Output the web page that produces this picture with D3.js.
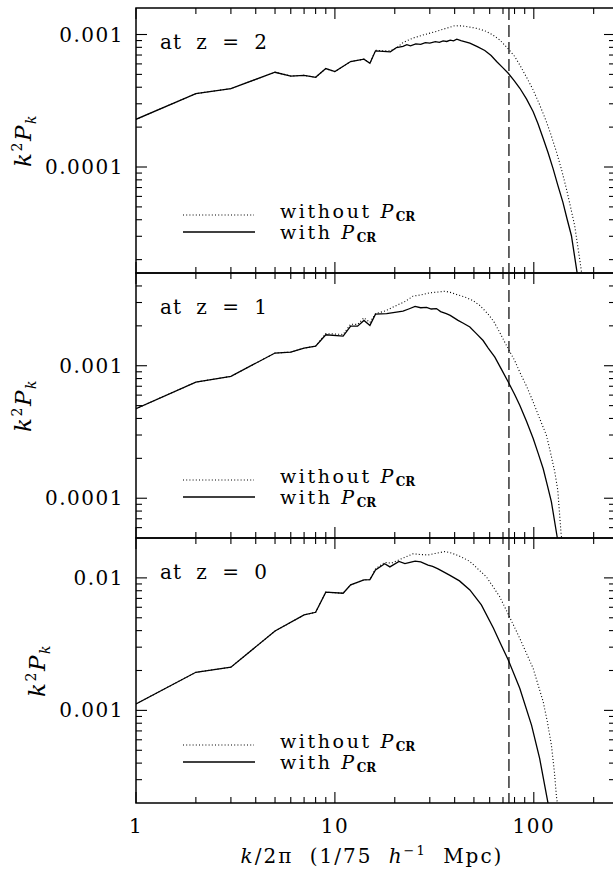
<!DOCTYPE html>
<html>
<head>
<meta charset="utf-8">
<script src="https://cdn.jsdelivr.net/npm/d3@7"></script>
<style>
  body { margin: 0; background: #fff; }
  svg { display: block; }
  text { font-family: "DejaVu Serif", serif; fill: #000; }
</style>
</head>
<body>
<div id="chart"></div>
<script>

// panel labels and y tick labels
var panelLabels = ["at z = 2", "at z = 1", "at z = 0"];
var yDomains = [[1.585e-5, 1.585e-3], [5.01e-5, 5.01e-3], [2.0e-4, 2.0e-2]];
var yMajor = [[0.001, 0.0001], [0.001, 0.0001], [0.01, 0.001]];
var xMajor = [1, 10, 100];
var kNyquist = 75;

// z = 2
var kWith2 = [1, 2, 3, 5, 6, 7, 8, 9, 10, 12, 14, 15, 16, 19, 20.4, 22, 23, 24, 25.5, 27, 28.5, 30, 32, 33.5, 35, 36.5, 38, 39.5, 41, 43, 47.7, 52, 56.7, 61, 65, 70, 74.4, 80, 85.1, 92, 99.3, 105, 111.5, 118, 125, 132, 140, 147, 154.6, 165, 172];
var pWith2 = [2.29e-4, 3.58e-4, 3.91e-4, 5.19e-4, 4.86e-4, 4.92e-4, 4.75e-4, 5.53e-4, 5.25e-4, 6.25e-4, 6.52e-4, 6.07e-4, 7.53e-4, 7.40e-4, 7.98e-4, 8.15e-4, 8.38e-4, 8.22e-4, 8.50e-4, 8.42e-4, 8.68e-4, 8.60e-4, 8.82e-4, 8.72e-4, 8.95e-4, 8.86e-4, 9.08e-4, 8.96e-4, 9.22e-4, 9.00e-4, 8.61e-4, 8.10e-4, 7.58e-4, 6.95e-4, 6.25e-4, 5.60e-4, 5.10e-4, 4.45e-4, 3.93e-4, 3.25e-4, 2.61e-4, 2.12e-4, 1.64e-4, 1.28e-4, 9.72e-5, 7.30e-5, 5.43e-5, 4.05e-5, 3.03e-5, 1.60e-5, 1.10e-5];
var kWithout2 = [1, 2, 3, 5, 6, 7, 8, 9, 10, 12, 14, 15, 16, 17, 19, 20.4, 22, 24.7, 28, 32.4, 36, 40, 44, 47.7, 52, 56.7, 62, 67.3, 74.4, 80, 85, 92, 99.3, 107, 115.7, 122, 130, 138, 145.8, 153, 160.5, 171, 176];
var pWithout2 = [2.29e-4, 3.58e-4, 3.91e-4, 5.19e-4, 4.86e-4, 4.92e-4, 4.75e-4, 5.53e-4, 5.25e-4, 6.25e-4, 6.52e-4, 6.07e-4, 7.60e-4, 7.55e-4, 7.53e-4, 7.90e-4, 8.70e-4, 9.40e-4, 9.95e-4, 1.055e-3, 1.11e-3, 1.164e-3, 1.16e-3, 1.137e-3, 1.11e-3, 1.067e-3, 9.95e-4, 9.12e-4, 7.80e-4, 6.85e-4, 5.89e-4, 4.75e-4, 3.81e-4, 2.95e-4, 2.20e-4, 1.75e-4, 1.30e-4, 9.50e-5, 6.86e-5, 5.00e-5, 3.61e-5, 1.91e-5, 1.40e-5];

// z = 1
var kWith1 = [1, 2, 3, 5, 6, 7, 8, 9, 11, 12, 13, 14, 15, 16, 18.2, 20.4, 22, 23.5, 25.3, 27, 28.9, 30.5, 32.4, 34, 36.3, 38, 41.6, 44, 47.7, 51, 55.6, 59, 63.7, 69, 74.4, 80, 85, 92, 99.3, 105, 111.5, 117, 122.6, 131, 135];
var pWith1 = [4.74e-4, 7.53e-4, 8.32e-4, 1.247e-3, 1.268e-3, 1.359e-3, 1.407e-3, 1.713e-3, 1.675e-3, 1.992e-3, 1.99e-3, 2.198e-3, 2.015e-3, 2.45e-3, 2.47e-3, 2.54e-3, 2.58e-3, 2.68e-3, 2.80e-3, 2.74e-3, 2.76e-3, 2.68e-3, 2.70e-3, 2.56e-3, 2.47e-3, 2.40e-3, 2.20e-3, 2.10e-3, 1.96e-3, 1.77e-3, 1.55e-3, 1.36e-3, 1.16e-3, 9.30e-4, 7.53e-4, 6.10e-4, 5.03e-4, 3.80e-4, 2.82e-4, 2.20e-4, 1.67e-4, 1.25e-4, 9.39e-5, 5.12e-5, 4.0e-5];
var kWithout1 = [1, 2, 3, 5, 6, 7, 8, 9, 11, 12, 13, 14, 15, 16, 18, 20.4, 22.5, 24.7, 27, 30, 33, 35.7, 38, 40.9, 45, 49.3, 53.5, 58.7, 63, 67.3, 74.4, 80, 85, 92, 99.3, 107, 115.7, 121, 127.5, 132, 137, 140];
var pWithout1 = [4.74e-4, 7.53e-4, 8.32e-4, 1.247e-3, 1.268e-3, 1.359e-3, 1.407e-3, 1.75e-3, 1.72e-3, 2.06e-3, 2.05e-3, 2.30e-3, 2.12e-3, 2.47e-3, 2.60e-3, 2.85e-3, 3.05e-3, 3.35e-3, 3.42e-3, 3.55e-3, 3.60e-3, 3.65e-3, 3.58e-3, 3.45e-3, 3.30e-3, 3.11e-3, 2.85e-3, 2.47e-3, 2.15e-3, 1.79e-3, 1.34e-3, 1.10e-3, 8.95e-4, 7.00e-4, 5.32e-4, 4.00e-4, 2.99e-4, 2.25e-4, 1.58e-4, 1.15e-4, 5.5e-5, 4.2e-5];

// z = 0
var kWith0 = [1, 2, 3, 5, 7, 8, 9, 11, 12, 14, 15, 16, 17.8, 18.9, 21, 22.5, 25.3, 27, 29.4, 31, 33, 37.7, 42.3, 47.7, 54.5, 62.7, 68, 74.4, 85, 97.4, 107, 118, 120];
var pWith0 = [1.12e-3, 1.94e-3, 2.12e-3, 3.97e-3, 5.25e-3, 5.50e-3, 7.80e-3, 7.66e-3, 8.85e-3, 9.66e-3, 9.70e-3, 1.15e-2, 1.28e-2, 1.21e-2, 1.33e-2, 1.28e-2, 1.34e-2, 1.32e-2, 1.25e-2, 1.22e-2, 1.17e-2, 1.05e-2, 9.49e-3, 8.11e-3, 6.25e-3, 4.17e-3, 3.20e-3, 2.40e-3, 1.47e-3, 7.74e-4, 4.34e-4, 1.98e-4, 1.70e-4];
var kWithout0 = [1, 2, 3, 5, 7, 8, 9, 11, 12, 14, 15, 16, 17.8, 19.2, 22, 24.7, 27, 29.4, 32, 35.7, 38, 40.9, 44, 47.7, 52, 57.7, 62, 67.3, 74.4, 85, 99.3, 111.5, 117, 122.6, 127, 130, 132];
var pWithout0 = [1.12e-3, 1.94e-3, 2.12e-3, 3.97e-3, 5.25e-3, 5.50e-3, 7.80e-3, 7.66e-3, 8.85e-3, 9.66e-3, 9.70e-3, 1.17e-2, 1.31e-2, 1.29e-2, 1.41e-2, 1.52e-2, 1.50e-2, 1.49e-2, 1.53e-2, 1.58e-2, 1.55e-2, 1.49e-2, 1.42e-2, 1.33e-2, 1.18e-2, 1.02e-2, 8.70e-3, 7.23e-3, 5.32e-3, 3.50e-3, 2.07e-3, 1.16e-3, 8.2e-4, 5.47e-4, 3.4e-4, 2.23e-4, 1.9e-4];

var panels = [
  {withK: kWith2, withP: pWith2, noK: kWithout2, noP: pWithout2},
  {withK: kWith1, withP: pWith1, noK: kWithout1, noP: pWithout1},
  {withK: kWith0, withP: pWith0, noK: kWithout0, noP: pWithout0}
];

var W = 613, H = 871;
var left = 136, plotW = 479, top0 = 8, panelH = 265;
var fs = "20px";

var svg = d3.select("#chart").append("svg")
    .attr("width", W)
    .attr("height", H);

var xScale = d3.scaleLog().domain([1, 256]).range([left, left + plotW]);

var xMinor = [];
[1, 10, 100].forEach(function(d) {
    for (var m = 2; m <= 9; m++) if (d * m < 256) xMinor.push(d * m);
});

var line = function(yScale) {
    return d3.line()
        .x(function(d) { return xScale(d[0]); })
        .y(function(d) { return yScale(d[1]); });
};

panels.forEach(function(p, i) {
    var y0 = top0 + i * panelH;
    var yScale = d3.scaleLog().domain(yDomains[i]).range([y0 + panelH, y0]);
    var g = svg.append("g");

    svg.append("clipPath").attr("id", "clip" + i)
        .append("rect")
        .attr("x", left).attr("y", y0)
        .attr("width", plotW).attr("height", panelH);

    // x ticks on top and bottom
    var xt = xMajor.map(function(d) { return {v: d, len: 11}; })
        .concat(xMinor.map(function(d) { return {v: d, len: 6}; }));
    xt.forEach(function(t) {
        var x = xScale(t.v);
        g.append("line").attr("x1", x).attr("x2", x).attr("y1", y0).attr("y2", y0 + t.len)
            .attr("stroke", "#000").attr("stroke-width", 1.1);
        g.append("line").attr("x1", x).attr("x2", x).attr("y1", y0 + panelH).attr("y2", y0 + panelH - t.len)
            .attr("stroke", "#000").attr("stroke-width", 1.1);
    });

    // y ticks on left and right
    yScale.ticks().forEach(function(v) {
        var yy = yScale(v);
        if (yy < y0 + 1 || yy > y0 + panelH - 1) return;
        var major = yMajor[i].some(function(m) { return Math.abs(m - v) / m < 1e-6; });
        var len = major ? 11 : 6;
        g.append("line").attr("x1", left).attr("x2", left + len).attr("y1", yy).attr("y2", yy)
            .attr("stroke", "#000").attr("stroke-width", 1.1);
        g.append("line").attr("x1", left + plotW).attr("x2", left + plotW - len).attr("y1", yy).attr("y2", yy)
            .attr("stroke", "#000").attr("stroke-width", 1.1);
    });

    // y tick labels
    yMajor[i].forEach(function(v) {
        g.append("text")
            .attr("x", 124).attr("y", yScale(v) + 7)
            .attr("text-anchor", "end")
            .style("font-size", fs)
            .style("letter-spacing", "1.5px")
            .text(String(v));
    });

    // frame
    g.append("rect")
        .attr("x", left).attr("y", y0)
        .attr("width", plotW).attr("height", panelH)
        .attr("fill", "none").attr("stroke", "#000").attr("stroke-width", 1.5);

    // nyquist line
    g.append("line")
        .attr("x1", xScale(kNyquist)).attr("x2", xScale(kNyquist))
        .attr("y1", y0).attr("y2", y0 + panelH)
        .attr("stroke", "#000").attr("stroke-width", 1.2)
        .attr("stroke-dasharray", "12,5");

    var curves = g.append("g").attr("clip-path", "url(#clip" + i + ")");
    curves.append("path")
        .datum(d3.zip(p.noK, p.noP))
        .attr("d", line(yScale))
        .attr("fill", "none").attr("stroke", "#000").attr("stroke-width", 1.1)
        .attr("stroke-dasharray", "1,2.2");
    curves.append("path")
        .datum(d3.zip(p.withK, p.withP))
        .attr("d", line(yScale))
        .attr("fill", "none").attr("stroke", "#000").attr("stroke-width", 1.3);

    // panel label
    g.append("text")
        .attr("x", 160).attr("y", y0 + 41)
        .style("font-size", fs)
        .style("letter-spacing", "1px")
        .style("word-spacing", "7px")
        .text(panelLabels[i]);

    // legend
    var legY = [y0 + 207, y0 + 224];
    g.append("line").attr("x1", 183).attr("x2", 254).attr("y1", legY[0]).attr("y2", legY[0])
        .attr("stroke", "#000").attr("stroke-width", 1.1).attr("stroke-dasharray", "1,2.2");
    g.append("line").attr("x1", 183).attr("x2", 255).attr("y1", legY[1]).attr("y2", legY[1])
        .attr("stroke", "#000").attr("stroke-width", 1.3);
    var legBase = [legY[0] + 3, legY[1] + 7];
    ["without ", "with "].forEach(function(lbl, j) {
        var t = g.append("text")
            .attr("x", 280).attr("y", legBase[j])
            .style("font-size", "19px")
            .style("letter-spacing", "2.6px")
            .style("white-space", "pre");
        t.append("tspan").text(lbl);
        t.append("tspan").style("font-style", "italic").text("P");
        t.append("tspan").attr("dy", 3).style("font-size", "12px").style("font-weight", "bold")
            .style("letter-spacing", "0px").text("CR");
    });

    // y axis title
    var lx = i === 2 ? 45 : 31;
    var cy = y0 + panelH / 2;
    var yt = g.append("text")
        .attr("transform", "translate(" + lx + "," + cy + ") rotate(-90)")
        .attr("text-anchor", "middle")
        .style("font-size", "23px")
        .style("letter-spacing", "1.5px");
    yt.append("tspan").style("font-style", "italic").text("k");
    yt.append("tspan").attr("dy", -9).style("font-size", "14px").text("2");
    yt.append("tspan").attr("dy", 9).style("font-style", "italic").text("P");
    yt.append("tspan").attr("dy", 5).style("font-size", "14px").style("font-style", "italic").text("k");
});

// x tick labels
var yBottom = top0 + 3 * panelH;
xMajor.forEach(function(v) {
    svg.append("text")
        .attr("x", xScale(v)).attr("y", yBottom + 30)
        .attr("text-anchor", "middle")
        .style("font-size", fs)
        .style("letter-spacing", "1.5px")
        .text(String(v));
});

// x axis title
var xt = svg.append("text")
    .attr("x", 372).attr("y", 863)
    .attr("text-anchor", "middle")
    .style("font-size", fs)
    .style("letter-spacing", "2px")
    .style("word-spacing", "8px")
    .style("white-space", "pre");
xt.append("tspan").style("font-style", "italic").text("k");
xt.append("tspan").text("/2\u03c0 (1/75 ");
xt.append("tspan").style("font-style", "italic").text("h");
xt.append("tspan").attr("dy", -8).style("font-size", "13px").text("\u22121");
xt.append("tspan").attr("dy", 8).text(" Mpc)");

</script>
</body>
</html>
